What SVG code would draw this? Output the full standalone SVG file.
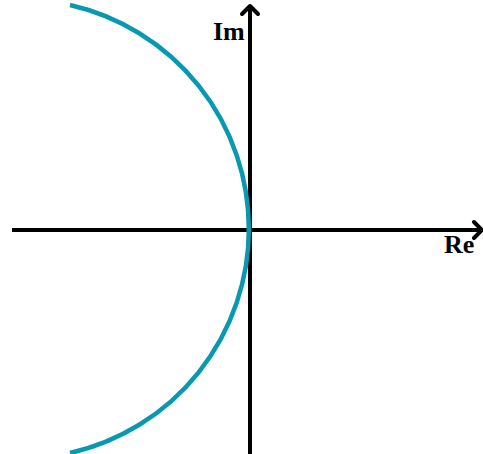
<svg xmlns="http://www.w3.org/2000/svg" width="483" height="454" viewBox="0 0 483 454">
<style>
.axis{stroke:#000;stroke-width:4;fill:none}
.head{stroke:#000;stroke-width:4;fill:none;stroke-linecap:round;stroke-linejoin:round}
.lbl{font-family:"Liberation Serif",serif;font-weight:bold;font-size:26px;fill:#000}
.arc{stroke:#0899b1;stroke-width:4.5;fill:none}
</style>
<rect width="483" height="454" fill="#fff"/>
<g id="axes">
<line class="axis" x1="12" y1="230" x2="481" y2="230"/>
<polyline class="head" points="474,222 482,230 474,238"/>
<line class="axis" x1="250" y1="454" x2="250" y2="7"/>
<polyline class="head" points="242,14 250,6 258,14"/>
</g>
<g id="curve">
<path class="arc" d="M 70 5 A 229.7 229.7 0 0 1 70 453"/>
</g>
<g id="labels">
<text class="lbl" x="213" y="40">Im</text>
<text class="lbl" x="444" y="253">Re</text>
</g>
</svg>
